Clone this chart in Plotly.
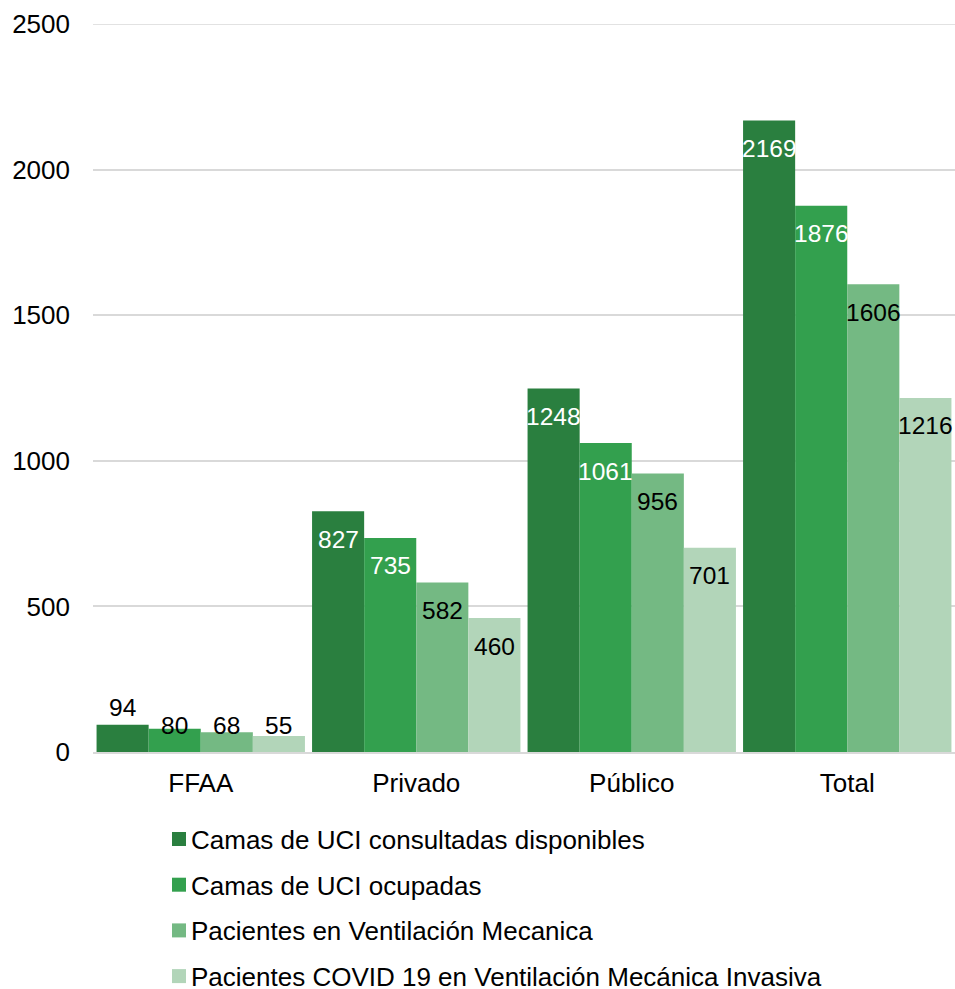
import plotly.graph_objects as go

categories = ["FFAA", "Privado", "Público", "Total"]
series_names = [
    "Camas de UCI consultadas disponibles",
    "Camas de UCI ocupadas",
    "Pacientes en Ventilación Mecanica",
    "Pacientes COVID 19 en Ventilación Mecánica Invasiva",
]
camas_disponibles = [94, 827, 1248, 2169]
camas_ocupadas = [80, 735, 1061, 1876]
ventilacion = [68, 582, 956, 1606]
covid_invasiva = [55, 460, 701, 1216]

series_values = [camas_disponibles, camas_ocupadas, ventilacion, covid_invasiva]
colors = ["#2a7f3f", "#33a04e", "#74b983", "#b2d5b9"]
label_colors = ["white", "white", "black", "black"]

font = "Liberation Sans, Arial, sans-serif"

W, H = 955, 989
ml, mt, mb = 93, 24, 237
plot_w = W - ml
plot_h = H - mt - mb
y_max = 2500

fig = go.Figure()
for i, (name, vals) in enumerate(zip(series_names, series_values)):
    fig.add_trace(go.Bar(
        x=categories, y=vals, name=name,
        marker=dict(color=colors[i], line=dict(width=0)),
        showlegend=False,
    ))

# data labels, "inside end" like Excel; short bars get the label above the axis
bargap = 0.033
bar_px = plot_w / len(categories) * (1 - bargap) / 4
annotations = []
for i, vals in enumerate(series_values):
    for cat, v in zip(categories, vals):
        h = v / y_max * plot_h
        if h >= 56:
            y, shift, col = v, -28, label_colors[i]
        elif i == 0:
            y, shift, col = v, 17, "black"
        else:
            y, shift, col = 0, 27, "black"
        annotations.append(dict(
            x=cat, y=y, xref="x", yref="y", text=str(v), showarrow=False,
            xshift=(i - 1.5) * bar_px, yshift=shift, yanchor="middle",
            font=dict(family=font, size=24.5, color=col),
        ))

# top gridline: plotly drops gridlines sitting on the plot edge
shapes = [dict(
    type="line", xref="paper", yref="y", x0=0, x1=1, y0=y_max, y1=y_max,
    line=dict(color="#d9d9d9", width=1.5), layer="below",
)]

# legend drawn by hand: plotly's own legend would push the bottom margin
row_gap = 45.7
first_row = 87  # px below the x axis
for i, name in enumerate(series_names):
    yc = -(first_row + i * row_gap) / plot_h
    half = 7 / plot_h
    shapes.append(dict(
        type="rect", xref="paper", yref="paper",
        x0=(172 - ml) / plot_w, x1=(186 - ml) / plot_w,
        y0=yc - half, y1=yc + half,
        fillcolor=colors[i], line=dict(width=0),
    ))
    annotations.append(dict(
        x=(189 - ml) / plot_w, y=yc, xref="paper", yref="paper",
        text=name, showarrow=False, xanchor="left", yanchor="middle",
        yshift=-1, font=dict(family=font, size=26, color="black"),
    ))

fig.update_layout(
    barmode="group",
    bargap=bargap,
    bargroupgap=0,
    width=W, height=H,
    margin=dict(l=ml, r=0, t=mt, b=mb),
    paper_bgcolor="white", plot_bgcolor="white",
    font=dict(family=font, size=26, color="black"),
    annotations=annotations,
    shapes=shapes,
    showlegend=False,
    xaxis=dict(
        showline=True, linecolor="#d9d9d9", linewidth=2, ticks="",
        ticklabelstandoff=7, showgrid=False,
    ),
    yaxis=dict(
        range=[0, y_max], dtick=500, showgrid=True, gridcolor="#d9d9d9",
        gridwidth=1.5, zeroline=False, showline=False, ticks="",
        ticklabelstandoff=22,
    ),
)

# drop the default page margin so the figure sits at the window's corner
fig.write_html(
    "out.html",
    config={"displayModeBar": False},
    post_script="document.body.style.margin='0';document.body.style.overflow='hidden';",
)
